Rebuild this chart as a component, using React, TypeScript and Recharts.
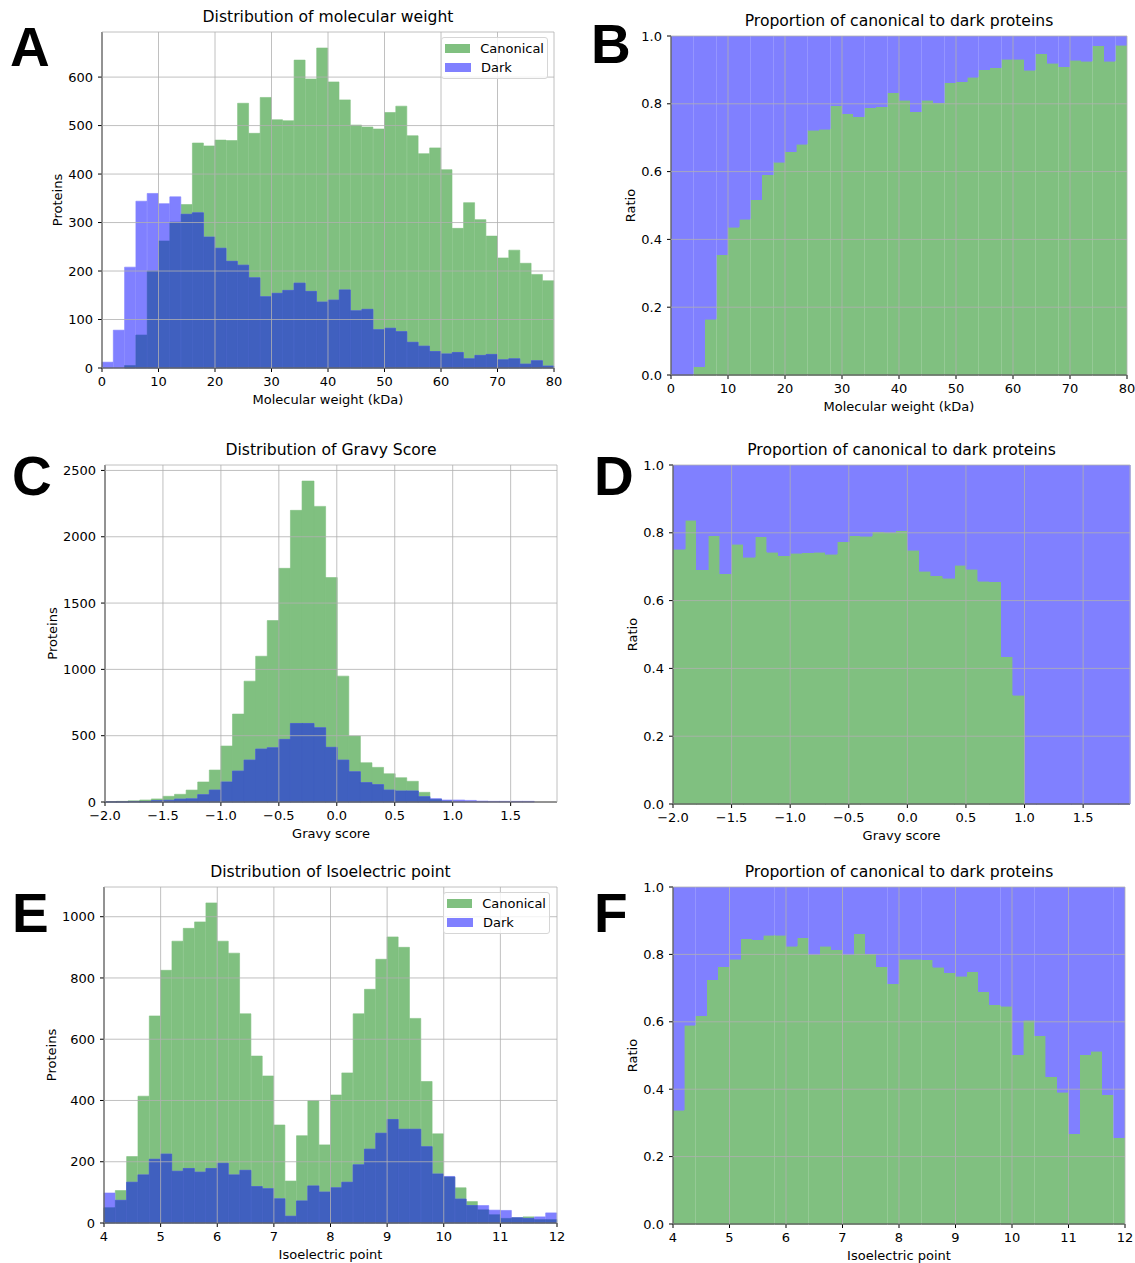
import React from 'react';
import {
  ComposedChart,
  BarChart,
  Bar,
  XAxis,
  YAxis,
  CartesianGrid,
  ReferenceArea,
  Legend,
} from 'recharts';

// molecular weight: 2 kDa bins, 0..80
const mwBinStart = 0;
const mwBinWidth = 2;
const mwCanonical = [
  0, 0, 5, 68, 200, 262, 301, 337, 464, 458, 470, 469, 546, 484, 558, 512, 510, 635, 596, 660,
  590, 553, 501, 497, 493, 527, 540, 479, 442, 454, 409, 288, 341, 306, 272, 227, 243, 216, 193, 180,
];
const mwDark = [
  12, 78, 208, 344, 360, 339, 353, 317, 320, 270, 247, 220, 212, 186, 147, 154, 160, 175, 158, 136,
  140, 161, 118, 121, 79, 82, 75, 53, 45, 34, 29, 32, 19, 26, 28, 17, 19, 8, 15, 4,
];
const mwRatio = [
  0, 0, 0.025, 0.164, 0.354, 0.436, 0.46, 0.517, 0.59, 0.628, 0.659, 0.681, 0.722, 0.725, 0.794,
  0.771, 0.762, 0.788, 0.792, 0.833, 0.811, 0.777, 0.811, 0.803, 0.862, 0.865, 0.879, 0.901, 0.907,
  0.932, 0.932, 0.899, 0.947, 0.92, 0.909, 0.928, 0.926, 0.971, 0.926, 0.973,
];
const mwTicks = [0, 10, 20, 30, 40, 50, 60, 70, 80];
const mwCountTicks = [0, 100, 200, 300, 400, 500, 600];

// gravy score: 0.1 bins, -2.0..1.9
const gravyBinStart = -2;
const gravyBinWidth = 0.1;
const gravyCanonical = [
  3, 5, 9, 15, 23, 43, 58, 90, 151, 241, 422, 663, 911, 1099, 1368, 1762, 2199, 2420, 2229, 1692,
  949, 497, 296, 261, 213, 183, 156, 73, 20, 7, 0, 0, 0, 0, 0, 0, 0, 0, 0,
];
const gravyDark = [
  1, 1, 4, 4, 11, 13, 22, 24, 55, 90, 151, 233, 316, 399, 409, 472, 592, 592, 560, 412,
  316, 228, 146, 131, 90, 83, 83, 40, 25, 15, 15, 12, 7, 5, 5, 5, 5, 0, 0,
];
const gravyRatio = [
  0.752, 0.837, 0.691, 0.792, 0.679, 0.766, 0.728, 0.789, 0.742, 0.733, 0.739, 0.741, 0.743, 0.736,
  0.774, 0.792, 0.79, 0.803, 0.801, 0.806, 0.749, 0.687, 0.673, 0.666, 0.705, 0.692, 0.657, 0.655,
  0.434, 0.321, 0, 0, 0, 0, 0, 0, 0, 0, 0,
];
const gravyTicks = [-2, -1.5, -1, -0.5, 0, 0.5, 1, 1.5];
const gravyCountTicks = [0, 500, 1000, 1500, 2000, 2500];

// isoelectric point: 0.2 bins, 4..12
const piBinStart = 4;
const piBinWidth = 0.2;
const piCanonical = [
  50, 106, 217, 414, 676, 825, 920, 962, 983, 1045, 920, 881, 683, 545, 480, 320, 137, 285, 399, 255,
  418, 490, 683, 763, 861, 934, 900, 668, 462, 291, 150, 115, 70, 43, 27, 15, 17, 20, 11, 11,
];
const piDark = [
  98, 74, 133, 157, 208, 225, 169, 178, 166, 178, 195, 157, 172, 119, 112, 79, 22, 72, 121, 101,
  115, 133, 190, 241, 293, 338, 306, 306, 249, 160, 152, 78, 57, 57, 42, 41, 17, 15, 20, 33,
];
const piRatio = [
  0.337, 0.59, 0.618, 0.725, 0.764, 0.786, 0.846, 0.844, 0.857, 0.857, 0.824, 0.849, 0.799, 0.824,
  0.814, 0.799, 0.862, 0.802, 0.764, 0.713, 0.786, 0.786, 0.784, 0.762, 0.746, 0.735, 0.749, 0.689,
  0.65, 0.646, 0.502, 0.605, 0.559, 0.437, 0.391, 0.268, 0.502, 0.512, 0.383, 0.256,
];
const piTicks = [4, 5, 6, 7, 8, 9, 10, 11, 12];
const piCountTicks = [0, 200, 400, 600, 800, 1000];

const ratioTicks = [0, 0.2, 0.4, 0.6, 0.8, 1.0];

// the part where both histograms overlap gets its own (mixed) colour
const histRows = (start: number, width: number, canonical: number[], dark: number[]) =>
  canonical.map((c, i) => ({
    x: start + width * (i + 0.5),
    canonical: c,
    dark: dark[i],
    both: Math.min(c, dark[i]),
  }));

const ratioRows = (start: number, width: number, ratio: number[]) =>
  ratio.map((r, i) => ({ x: start + width * (i + 0.5), ratio: r, rest: 1 - r }));

const AXIS_W = 60;
const AXIS_H = 42;
const M_TOP = 10;
const M_RIGHT = 14;

// matplotlib green / blue at alpha 0.5 on white, and blue over green
const GREEN = '#80c080';
const BLUE = '#8080ff';
const MIXED = '#4060bf';

const tickStyle = { fill: '#000', fontSize: 13 };
const labelStyle = { fill: '#000', fontSize: 13 };
const fmtInt = (v: number) => String(v);
const fmtDec = (v: number) => v.toFixed(1).replace('-', '\u2212');

type Box = { left: number; top: number; right: number; bottom: number };

function Title({ box, text }: { box: Box; text: string }) {
  return (
    <div
      style={{
        position: 'absolute',
        left: box.left,
        width: box.right - box.left,
        top: box.top - 26,
        height: 22,
        lineHeight: '22px',
        textAlign: 'center',
        fontSize: 15.6,
        whiteSpace: 'nowrap',
      }}
    >
      {text}
    </div>
  );
}

function PanelLetter({ letter, x, y }: { letter: string; x: number; y: number }) {
  return (
    <div
      style={{
        position: 'absolute',
        left: x,
        top: y,
        fontFamily: '"Liberation Sans", Arial, sans-serif',
        fontWeight: 700,
        fontSize: 55,
        lineHeight: '55px',
      }}
    >
      {letter}
    </div>
  );
}

const renderLegend = (props: any) => {
  const entries = (props.payload || []).filter(
    (e: any) => e.type !== 'none' && e.payload?.legendType !== 'none'
  );
  return (
    <div
      style={{
        boxSizing: 'border-box',
        width: 107,
        height: 42,
        border: '1px solid #d6d6d6',
        borderRadius: 3,
        background: 'rgba(255,255,255,0.8)',
        padding: '1px 3px',
        fontSize: 13,
        fontFamily: '"DejaVu Sans", sans-serif',
        color: '#000',
      }}
    >
      {entries.map((entry: any) => (
        <div key={entry.value} style={{ display: 'flex', alignItems: 'center', height: 19 }}>
          <span
            style={{
              display: 'inline-block',
              width: 26,
              height: 9,
              background: entry.color,
              marginRight: 10,
            }}
          />
          <span>{entry.value}</span>
        </div>
      ))}
    </div>
  );
};

function HistPanel(props: {
  box: Box;
  title: string;
  rows: any[];
  xDomain: [number, number];
  xTicks: number[];
  xFmt: (v: number) => string;
  yDomain: [number, number];
  yTicks: number[];
  xLabel: string;
  yLabelOffset: number;
  legend?: boolean;
}) {
  const { box, title, rows, xDomain, xTicks, xFmt, yDomain, yTicks, xLabel, yLabelOffset, legend } = props;
  const plotW = box.right - box.left;
  const plotH = box.bottom - box.top;
  return (
    <>
      <Title box={box} text={title} />
      <div style={{ position: 'absolute', left: box.left - AXIS_W, top: box.top - M_TOP }}>
        <ComposedChart
          width={plotW + AXIS_W + M_RIGHT}
          height={plotH + M_TOP + AXIS_H}
          data={rows}
          margin={{ top: M_TOP, right: M_RIGHT, bottom: 0, left: 0 }}
          barCategoryGap={0}
          barGap={0}
        >
          <XAxis
            xAxisId={0}
            type="number"
            dataKey="x"
            domain={xDomain}
            ticks={xTicks}
            interval={0}
            tickFormatter={xFmt}
            height={AXIS_H}
            tick={tickStyle}
            tickSize={4}
            tickMargin={5}
            tickLine={{ stroke: '#000' }}
            axisLine={{ stroke: '#000' }}
            label={{ value: xLabel, position: 'insideBottom', offset: 6, style: labelStyle }}
          />
          <XAxis xAxisId={1} type="number" dataKey="x" domain={xDomain} hide />
          <XAxis xAxisId={2} type="number" dataKey="x" domain={xDomain} hide />
          <YAxis
            type="number"
            domain={yDomain}
            ticks={yTicks}
            interval={0}
            tickFormatter={fmtInt}
            width={AXIS_W}
            tick={tickStyle}
            tickSize={4}
            tickMargin={5}
            tickLine={{ stroke: '#000' }}
            axisLine={{ stroke: '#000' }}
            label={{
              value: 'Proteins',
              angle: -90,
              position: 'insideLeft',
              offset: yLabelOffset,
              style: { ...labelStyle, textAnchor: 'middle' },
            }}
          />
          <Bar
            xAxisId={0}
            dataKey="canonical"
            name="Canonical"
            fill={GREEN}
            stroke={GREEN}
            strokeWidth={0.6}
            isAnimationActive={false}
          />
          <Bar
            xAxisId={1}
            dataKey="dark"
            name="Dark"
            fill={BLUE}
            stroke={BLUE}
            strokeWidth={0.6}
            isAnimationActive={false}
          />
          <Bar
            xAxisId={2}
            dataKey="both"
            name="both"
            legendType="none"
            fill={MIXED}
            stroke={MIXED}
            strokeWidth={0.6}
            isAnimationActive={false}
          />
          <CartesianGrid stroke="#b0b0b0" strokeWidth={0.8} zIndex={800} />
          <ReferenceArea fill="none" fillOpacity={0} stroke="#000" strokeWidth={1} zIndex={900} />
          {legend && (
            <Legend
              content={renderLegend}
              layout="horizontal"
              verticalAlign="middle"
              align="center"
              wrapperStyle={{ left: 399, top: 15, width: 107, height: 42 }}
            />
          )}
        </ComposedChart>
      </div>
    </>
  );
}

function RatioPanel(props: {
  box: Box;
  rows: any[];
  xDomain: [number, number];
  xTicks: number[];
  xFmt: (v: number) => string;
  xLabel: string;
}) {
  const { box, rows, xDomain, xTicks, xFmt, xLabel } = props;
  const plotW = box.right - box.left;
  const plotH = box.bottom - box.top;
  return (
    <>
      <Title box={box} text="Proportion of canonical to dark proteins" />
      <div style={{ position: 'absolute', left: box.left - AXIS_W, top: box.top - M_TOP }}>
        <BarChart
          width={plotW + AXIS_W + M_RIGHT}
          height={plotH + M_TOP + AXIS_H}
          data={rows}
          margin={{ top: M_TOP, right: M_RIGHT, bottom: 0, left: 0 }}
          barCategoryGap={0}
          barGap={0}
        >
          <XAxis
            type="number"
            dataKey="x"
            domain={xDomain}
            ticks={xTicks}
            interval={0}
            tickFormatter={xFmt}
            height={AXIS_H}
            tick={tickStyle}
            tickSize={4}
            tickMargin={5}
            tickLine={{ stroke: '#000' }}
            axisLine={{ stroke: '#000' }}
            label={{ value: xLabel, position: 'insideBottom', offset: 6, style: labelStyle }}
          />
          <YAxis
            type="number"
            domain={[0, 1]}
            ticks={ratioTicks}
            interval={0}
            tickFormatter={fmtDec}
            width={AXIS_W}
            tick={tickStyle}
            tickSize={4}
            tickMargin={5}
            tickLine={{ stroke: '#000' }}
            axisLine={{ stroke: '#000' }}
            label={{
              value: 'Ratio',
              angle: -90,
              position: 'insideLeft',
              offset: 19,
              style: { ...labelStyle, textAnchor: 'middle' },
            }}
          />
          <Bar
            dataKey="ratio"
            stackId="r"
            fill={GREEN}
            stroke={GREEN}
            strokeWidth={0.6}
            shapeRendering="crispEdges"
            isAnimationActive={false}
          />
          <Bar
            dataKey="rest"
            stackId="r"
            fill={BLUE}
            stroke={BLUE}
            strokeWidth={0.6}
            shapeRendering="crispEdges"
            isAnimationActive={false}
          />
          <CartesianGrid stroke="#b0b0b0" strokeWidth={0.8} zIndex={800} />
          <ReferenceArea fill="none" fillOpacity={0} stroke="#000" strokeWidth={1} zIndex={900} />
        </BarChart>
      </div>
    </>
  );
}

export default function App() {
  return (
    <div
      style={{
        position: 'absolute',
        left: 0,
        top: 0,
        width: 1135,
        height: 1263,
        overflow: 'hidden',
        background: '#fff',
        color: '#000',
        fontFamily: '"DejaVu Sans", sans-serif',
      }}
    >
      <HistPanel
        box={{ left: 102, top: 32, right: 554, bottom: 368 }}
        title="Distribution of molecular weight"
        rows={histRows(mwBinStart, mwBinWidth, mwCanonical, mwDark)}
        xDomain={[0, 80]}
        xTicks={mwTicks}
        xFmt={fmtInt}
        yDomain={[0, 693]}
        yTicks={mwCountTicks}
        xLabel="Molecular weight (kDa)"
        yLabelOffset={15}
        legend
      />
      <RatioPanel
        box={{ left: 671, top: 36, right: 1127, bottom: 375 }}
        rows={ratioRows(mwBinStart, mwBinWidth, mwRatio)}
        xDomain={[0, 80]}
        xTicks={mwTicks}
        xFmt={fmtInt}
        xLabel="Molecular weight (kDa)"
      />
      <HistPanel
        box={{ left: 105, top: 465, right: 557, bottom: 802 }}
        title="Distribution of Gravy Score"
        rows={histRows(gravyBinStart, gravyBinWidth, gravyCanonical, gravyDark)}
        xDomain={[-2, 1.9]}
        xTicks={gravyTicks}
        xFmt={fmtDec}
        yDomain={[0, 2541]}
        yTicks={gravyCountTicks}
        xLabel="Gravy score"
        yLabelOffset={7}
      />
      <RatioPanel
        box={{ left: 673, top: 465, right: 1130, bottom: 804 }}
        rows={ratioRows(gravyBinStart, gravyBinWidth, gravyRatio)}
        xDomain={[-2, 1.9]}
        xTicks={gravyTicks}
        xFmt={fmtDec}
        xLabel="Gravy score"
      />
      <HistPanel
        box={{ left: 104, top: 887, right: 557, bottom: 1223 }}
        title="Distribution of Isoelectric point"
        rows={histRows(piBinStart, piBinWidth, piCanonical, piDark)}
        xDomain={[4, 12]}
        xTicks={piTicks}
        xFmt={fmtInt}
        yDomain={[0, 1097]}
        yTicks={piCountTicks}
        xLabel="Isoelectric point"
        yLabelOffset={7}
        legend
      />
      <RatioPanel
        box={{ left: 673, top: 887, right: 1125, bottom: 1224 }}
        rows={ratioRows(piBinStart, piBinWidth, piRatio)}
        xDomain={[4, 12]}
        xTicks={piTicks}
        xFmt={fmtInt}
        xLabel="Isoelectric point"
      />
      <PanelLetter letter="A" x={10} y={20} />
      <PanelLetter letter="B" x={591} y={17} />
      <PanelLetter letter="C" x={12} y={449} />
      <PanelLetter letter="D" x={594} y={449} />
      <PanelLetter letter="E" x={12} y={886} />
      <PanelLetter letter="F" x={594} y={886} />
    </div>
  );
}
